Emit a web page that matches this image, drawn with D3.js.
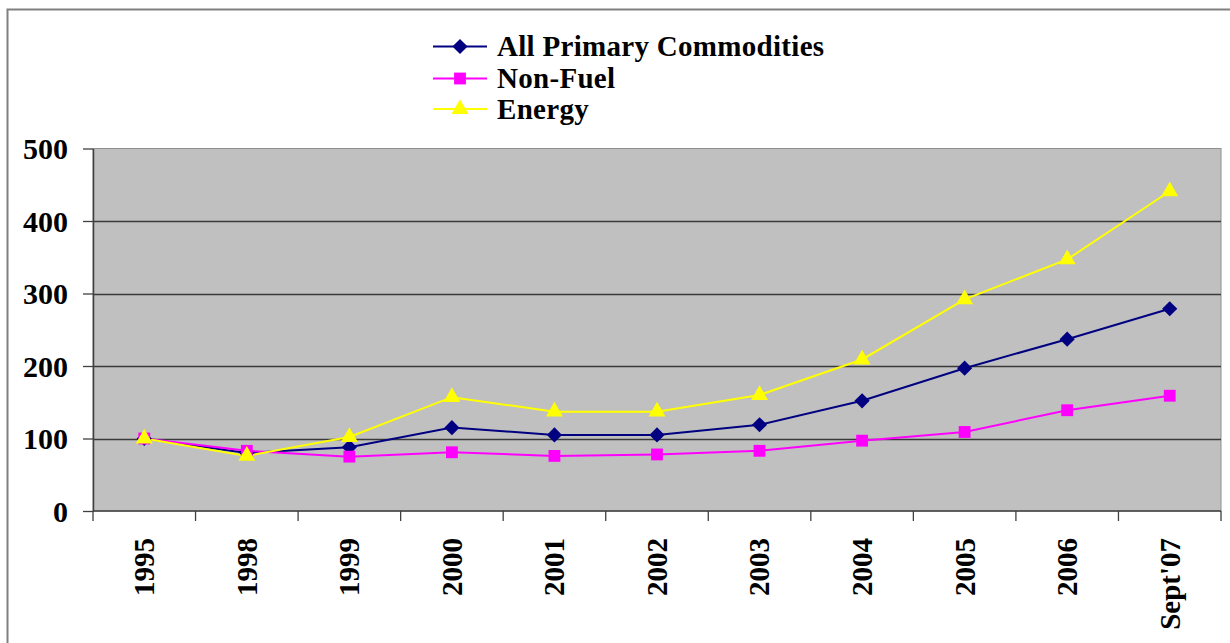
<!DOCTYPE html>
<html>
<head>
<meta charset="utf-8">
<script src="https://cdn.jsdelivr.net/npm/d3@7/dist/d3.min.js"></script>
<style>
  body { margin: 0; background: #fff; }
  svg { display: block; }
</style>
</head>
<body>
<div id="main"></div>
<script>
'use strict';

// categories + series
var years = ['1995', '1998', '1999', '2000', '2001', '2002', '2003', '2004', '2005', '2006', "Sept'07"];
var allPrimary = [100, 80, 88, 115, 105, 105, 119, 152, 197, 237, 279];
var nonFuel = [100, 83, 75, 81, 76, 78, 83, 97, 109, 139, 159];
var energy = [100, 76, 102, 157, 137, 137, 160, 209, 292, 347, 441];
var yTicks = [0, 100, 200, 300, 400, 500];

var seriesNames = ['All Primary Commodities', 'Non-Fuel', 'Energy'];
var seriesColors = ['#000080', '#FF00FF', '#FFFF00'];

var FONT = '"Liberation Serif", "Times New Roman", serif';

var series = [allPrimary, nonFuel, energy].map(function(vals, i) {
  return { name: seriesNames[i], color: seriesColors[i], values: vals };
});

var width = 1230, height = 643;
var plot = { left: 93, top: 148.5, right: 1221, bottom: 511 };

var svg = d3.select('#main').append('svg')
  .attr('width', width).attr('height', height);

// outer frame (right / bottom edges run off the picture)
svg.append('rect')
  .attr('x', 7.5).attr('y', 9.5)
  .attr('width', width + 20).attr('height', height + 20)
  .attr('fill', '#fff').attr('stroke', '#808080').attr('stroke-width', 2);

var x = d3.scaleBand().domain(years).range([plot.left, plot.right]).padding(0);
var y = d3.scaleLinear().domain([0, 500]).range([plot.bottom, plot.top]);

// plot area
svg.append('rect')
  .attr('x', plot.left).attr('y', plot.top)
  .attr('width', plot.right - plot.left).attr('height', plot.bottom - plot.top)
  .attr('fill', '#C0C0C0').attr('stroke', '#909090').attr('stroke-width', 1);

// gridlines
svg.append('g').selectAll('line')
  .data(yTicks.filter(function(d) { return d > 0 && d < 500; }))
  .enter().append('line')
  .attr('x1', plot.left).attr('x2', plot.right)
  .attr('y1', function(d) { return Math.round(y(d)) + 0.5; })
  .attr('y2', function(d) { return Math.round(y(d)) + 0.5; })
  .attr('stroke', '#3a3a3a').attr('stroke-width', 1.3);

// y axis
var yAxis = svg.append('g')
  .attr('transform', 'translate(' + plot.left + ',0)')
  .call(d3.axisLeft(y).tickValues(yTicks).tickSize(10).tickPadding(15).tickSizeOuter(0));
yAxis.select('.domain').attr('stroke', '#404040').attr('stroke-width', 1.5);
yAxis.selectAll('.tick line').attr('stroke', '#404040').attr('stroke-width', 1.3);
yAxis.selectAll('.tick text')
  .attr('fill', '#000').attr('dy', '0.34em')
  .style('font-family', FONT).style('font-size', '30px').style('font-weight', 'bold');

// x axis: ticks at band edges, labels rotated
var xg = svg.append('g').attr('transform', 'translate(0,' + plot.bottom + ')');
xg.append('line')
  .attr('x1', plot.left).attr('x2', plot.right)
  .attr('y1', 0).attr('y2', 0)
  .attr('stroke', '#404040').attr('stroke-width', 1.5);
var edges = years.map(function(d) { return x(d); }).concat([plot.right]);
xg.selectAll('line.tk').data(edges).enter().append('line')
  .attr('class', 'tk')
  .attr('x1', function(d) { return d; }).attr('x2', function(d) { return d; })
  .attr('y1', 0).attr('y2', 10)
  .attr('stroke', '#404040').attr('stroke-width', 1.3);
xg.selectAll('text').data(years).enter().append('text')
  .attr('transform', function(d) {
    return 'translate(' + (x(d) + x.bandwidth() / 2) + ',27) rotate(-90)';
  })
  .attr('text-anchor', 'end')
  .attr('dy', '0.34em')
  .attr('fill', '#000')
  .style('font-family', FONT).style('font-size', '29px').style('font-weight', 'bold')
  .text(function(d) { return d; });

// marker shapes: diamond = square turned 45deg, square, triangle
function marker(sel, i) {
  if (i === 0) {
    sel.append('path')
      .attr('d', d3.symbol().type(d3.symbolSquare).size(115))
      .attr('transform', 'rotate(45)');
  } else if (i === 1) {
    sel.append('path').attr('d', d3.symbol().type(d3.symbolSquare).size(140));
  } else {
    sel.append('path').attr('d', d3.symbol().type(d3.symbolTriangle).size(125));
  }
}

// lines + markers
var line = d3.line()
  .x(function(d, i) { return x(years[i]) + x.bandwidth() / 2; })
  .y(function(d) { return y(d); });

series.forEach(function(s) {
  svg.append('path')
    .datum(s.values)
    .attr('d', line)
    .attr('fill', 'none')
    .attr('stroke', s.color)
    .attr('stroke-width', 2);
});

series.forEach(function(s, si) {
  svg.append('g').attr('fill', s.color).selectAll('g')
    .data(s.values).enter().append('g')
    .attr('transform', function(d, i) {
      return 'translate(' + (x(years[i]) + x.bandwidth() / 2) + ',' + y(d) + ')';
    })
    .each(function() { marker(d3.select(this), si); });
});

// legend
var legend = svg.append('g').attr('transform', 'translate(433,0)');
var legendY = [46.5, 78.5, 109];
series.forEach(function(s, i) {
  var g = legend.append('g').attr('transform', 'translate(0,' + legendY[i] + ')');
  g.append('line').attr('x1', 0).attr('x2', 54).attr('y1', 0).attr('y2', 0)
    .attr('stroke', s.color).attr('stroke-width', 2);
  var m = g.append('g').attr('transform', 'translate(27,0)').attr('fill', s.color);
  marker(m, i);
  g.append('text')
    .attr('x', 64).attr('dy', '0.34em')
    .attr('fill', '#000')
    .style('font-family', FONT).style('font-size', '29px').style('font-weight', 'bold')
    .style('letter-spacing', '0.3px')
    .text(s.name);
});
</script>
</body>
</html>
